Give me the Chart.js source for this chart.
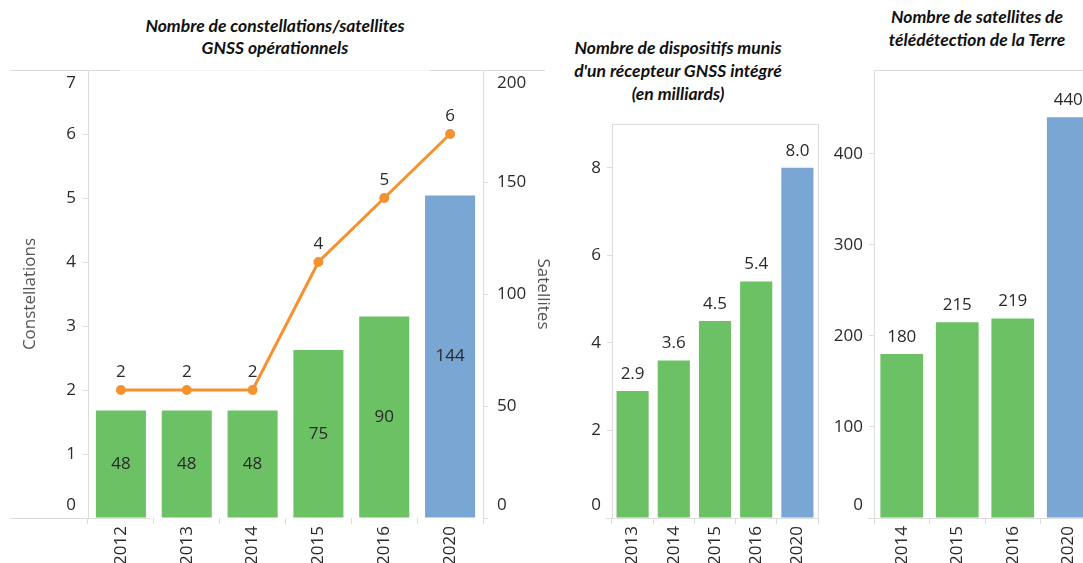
<!DOCTYPE html>
<html>
<head>
<meta charset="utf-8">
<script src="https://cdn.jsdelivr.net/npm/chart.js@4"></script>
<style>
  html, body { margin: 0; padding: 0; background: #fff; overflow: hidden; width: 1083px; height: 563px; }
  .box { position: absolute; top: 0; height: 563px; }
  .title {
    position: absolute; text-align: center; color: #111;
    font-family: Lato, "Open Sans", sans-serif; font-weight: bold; font-style: italic;
    font-size: 17.5px; line-height: 23px; white-space: nowrap;
  }
</style>
</head>
<body>
<div class="title" style="left:100px; width:350px; top:15px; line-height:22px;">Nombre de constellations/satellites<br>GNSS opérationnels</div>
<div class="title" style="left:528px; width:300px; top:36px;">Nombre de dispositifs munis<br>d'un récepteur GNSS intégré<br>(en milliards)</div>
<div class="title" style="left:862px; width:230px; top:5px;">Nombre de satellites de<br>télédétection de la Terre</div>

<div class="box" style="left:0; width:560px;"><canvas id="gnss"></canvas></div>
<div class="box" style="left:560px; width:270px;"><canvas id="devices"></canvas></div>
<div class="box" style="left:830px; width:270px;"><canvas id="earth"></canvas></div>

<script>
// --- data ---
const gnssYears = ["2012", "2013", "2014", "2015", "2016", "2020"];
const gnssSatellites = [48, 48, 48, 75, 90, 144];
const gnssConstellations = [2, 2, 2, 4, 5, 6];

const deviceYears = ["2013", "2014", "2015", "2016", "2020"];
const deviceBillions = [2.9, 3.6, 4.5, 5.4, 8.0];
const deviceTicks = [0, 2, 4, 6, 8];

const earthYears = ["2014", "2015", "2016", "2020"];
const earthSatellites = [180, 215, 219, 440];
const earthTicks = [0, 100, 200, 300, 400];

const green = "#6cc164";
const blue = "#79a6d2";
const orange = "#f5922f";
const axisGrey = "#dcdcdc";
const textColor = "#2a2a2a";
const fontFam = "'Open Sans', 'Noto Sans', sans-serif";
const tickFont = { family: fontFam, size: 17 };

function barColors(labels) {
  return labels.map(l => (l === "2020" ? blue : green));
}

// value labels drawn next to each mark
const valueLabels = {
  id: "valueLabels",
  afterDatasetsDraw(chart, args, opts) {
    const ctx = chart.ctx;
    ctx.save();
    ctx.fillStyle = textColor;
    ctx.font = "17px " + fontFam;
    ctx.textAlign = "center";
    ctx.textBaseline = "middle";
    chart.data.datasets.forEach((ds, i) => {
      const meta = chart.getDatasetMeta(i);
      meta.data.forEach((el, j) => {
        const v = ds.data[j];
        const txt = opts.decimals ? v.toFixed(opts.decimals) : String(v);
        if (ds.type === "line") {
          ctx.fillText(txt, el.x, el.y - 18);
        } else if (opts.inside) {
          ctx.fillText(txt, el.x, (el.y + el.base) / 2);
        } else {
          ctx.fillText(txt, el.x, el.y - 17);
        }
      });
    });
    ctx.restore();
  }
};

// light pane border lines like the original workbook,
// and keep the end labels of the value axes inside the pane
const paneLines = {
  id: "paneLines",
  beforeDraw(chart, args, opts) {
    const ctx = chart.ctx;
    const a = chart.chartArea;
    Object.values(chart.scales).forEach(sc => {
      if (sc.axis !== "y") return;
      sc.getLabelItems(a).forEach(item => {
        const t = item.options.translation;
        if (Math.abs(t[1] - a.bottom) < 2) t[1] -= 13;
        else if (Math.abs(t[1] - a.top) < 2) t[1] += 13;
      });
    });
    ctx.save();
    ctx.lineWidth = 1;
    (opts.segments || []).forEach(s => {
      ctx.strokeStyle = s.color || axisGrey;
      ctx.beginPath();
      const y = s.edge === "top" ? a.top + 0.5 : s.edge === "bottom" ? a.bottom + 0.5 : null;
      if (y !== null) {
        ctx.moveTo(a.left + s.from, y);
        ctx.lineTo(a.left + s.to, y);
      } else {
        const x = s.edge === "left" ? a.left + 0.5 : a.right + 0.5;
        ctx.moveTo(x, a.top);
        ctx.lineTo(x, a.bottom);
      }
      ctx.stroke();
    });
    ctx.restore();
  }
};

function yScale(opts) {
  return Object.assign({
    beginAtZero: true,
    border: { display: true, color: axisGrey },
    grid: { drawOnChartArea: false, drawTicks: true, tickLength: 5, color: axisGrey }
  }, opts);
}

function xScale() {
  return {
    offset: true,
    border: { display: false },
    grid: { offset: true, drawOnChartArea: false, drawTicks: true, tickLength: 6, color: axisGrey },
    ticks: { color: textColor, font: tickFont, minRotation: 90, maxRotation: 90, padding: 2, autoSkip: false },
    afterFit(s) { s.height = 45; }
  };
}

Chart.defaults.animation = false;
Chart.defaults.responsive = false;

// --- chart 1: GNSS constellations / satellites ---
const c1 = document.getElementById("gnss");
c1.width = 560; c1.height = 563;
new Chart(c1, {
  data: {
    labels: gnssYears,
    datasets: [
      {
        type: "line",
        data: gnssConstellations,
        yAxisID: "y",
        borderColor: orange,
        backgroundColor: orange,
        borderWidth: 3,
        pointRadius: 3.5,
        pointHoverRadius: 3.5,
        tension: 0,
        order: 0
      },
      {
        type: "bar",
        data: gnssSatellites,
        yAxisID: "y1",
        backgroundColor: barColors(gnssYears),
        barPercentage: 0.76,
        categoryPercentage: 1,
        order: 1
      }
    ]
  },
  options: {
    layout: { padding: { top: 70, left: 0, right: 0, bottom: 0 } },
    plugins: {
      legend: { display: false },
      tooltip: { enabled: false },
      valueLabels: { inside: true },
      paneLines: {
        segments: [
          { edge: "bottom", from: -78, to: 62 },
          { edge: "top", from: -78, to: 32 },
          { edge: "top", from: 32, to: 342, color: "#f4f4f4" },
          { edge: "top", from: 342, to: 457 }
        ]
      }
    },
    scales: {
      x: xScale(),
      y: yScale({
        position: "left",
        min: 0, max: 7,
        ticks: { color: textColor, font: tickFont, padding: 7, stepSize: 1 },
        title: { display: true, text: "Constellations", color: "#555", font: { family: fontFam, size: 17 }, padding: { top: 20, bottom: 0 } },
        afterFit(s) { s.width = 88; }
      }),
      y1: yScale({
        position: "right",
        min: 0, max: 200,
        ticks: { color: textColor, font: tickFont, padding: 9, stepSize: 50 },
        title: { display: true, text: "Satellites", color: "#555", font: { family: fontFam, size: 17 }, padding: { top: 7, bottom: 0 } },
        afterFit(s) { s.width = 77; }
      })
    }
  },
  plugins: [valueLabels, paneLines]
});

// --- chart 2: devices with GNSS receiver ---
const c2 = document.getElementById("devices");
c2.width = 270; c2.height = 563;
new Chart(c2, {
  type: "bar",
  data: {
    labels: deviceYears,
    datasets: [{
      data: deviceBillions,
      backgroundColor: barColors(deviceYears),
      barPercentage: 0.78,
      categoryPercentage: 1
    }]
  },
  options: {
    layout: { padding: { top: 124, left: 0, right: 12, bottom: 0 } },
    plugins: {
      legend: { display: false },
      tooltip: { enabled: false },
      valueLabels: { decimals: 1 },
      paneLines: {
        segments: [
          { edge: "bottom", from: -6, to: 207 },
          { edge: "top", from: 0, to: 207 },
          { edge: "right" }
        ]
      }
    },
    scales: {
      x: xScale(),
      y: yScale({
        min: 0, max: 9,
        afterBuildTicks(s) { s.ticks = deviceTicks.map(v => ({ value: v })); },
        ticks: { color: textColor, font: tickFont, padding: 6 },
        afterFit(s) { s.width = 52; }
      })
    }
  },
  plugins: [valueLabels, paneLines]
});

// --- chart 3: Earth observation satellites ---
const c3 = document.getElementById("earth");
c3.width = 270; c3.height = 563;
new Chart(c3, {
  type: "bar",
  data: {
    labels: earthYears,
    datasets: [{
      data: earthSatellites,
      backgroundColor: barColors(earthYears),
      barPercentage: 0.77,
      categoryPercentage: 1
    }]
  },
  options: {
    layout: { padding: { top: 70, left: 0, right: 4, bottom: 0 } },
    plugins: {
      legend: { display: false },
      tooltip: { enabled: false },
      valueLabels: {},
      paneLines: {
        segments: [
          { edge: "bottom", from: -6, to: 230 },
          { edge: "top", from: 0, to: 230 }
        ]
      }
    },
    scales: {
      x: xScale(),
      y: yScale({
        min: 0, max: 492,
        afterBuildTicks(s) { s.ticks = earthTicks.map(v => ({ value: v })); },
        ticks: { color: textColor, font: tickFont, padding: 6 },
        afterFit(s) { s.width = 44; }
      })
    }
  },
  plugins: [valueLabels, paneLines]
});
</script>
</body>
</html>
